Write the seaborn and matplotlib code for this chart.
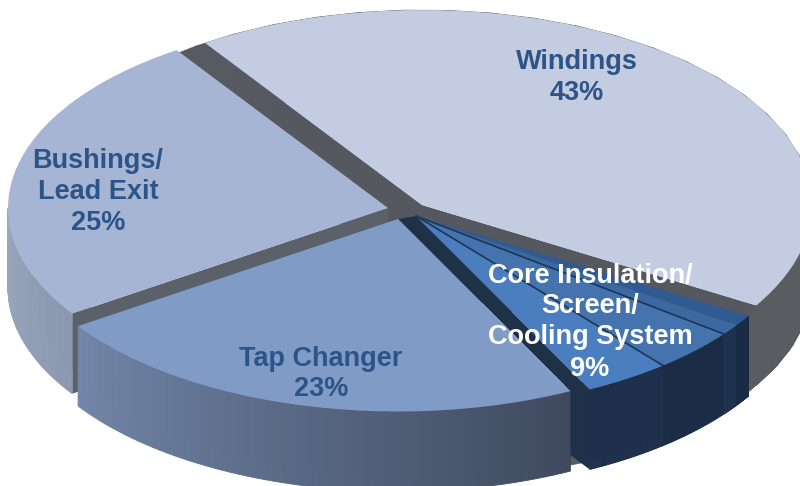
import numpy as np
import seaborn as sns
import matplotlib.pyplot as plt

# slice values, core group is split in four thin parts (together 9%)
names = ['Windings', 'Bushings', 'Tap Changer', 'Core 1', 'Core 2', 'Core 3', 'Core 4']
values = [43, 25, 23, 3.6, 3.6, 0.9, 0.9]
labels = ['Windings\n43%', 'Bushings/\nLead Exit\n25%', 'Tap Changer\n23%',
          'Core Insulation/\nScreen/\nCooling System\n9%']

top_colors = ['#c3cce0', '#a6b5d4', '#819bc7', '#4a7ebf', '#4573ad', '#3a689f', '#2f5a92']
label_colors = ['#2d5488', '#2d5488', '#2d5488', 'white']

# layout, in pixels of the picture
W, H = 800, 486
SQUASH = 0.5
DEPTH = 80
apex = {'Windings': (422, 205), 'Bushings': (388, 208), 'Tap Changer': (398, 219)}
radii = {'Windings': 390, 'Bushings': 380, 'Tap Changer': 385}
core_apex = (416, 216)
core_radius = 388
label_pos = [(577, 78), (98, 192), (321, 374), (590, 322)]


def to_data(px, py):
    return px, (H - py) / SQUASH


sns.set_theme(style='white')
plt.rcParams['font.family'] = ['Liberation Sans', 'DejaVu Sans']

fig = plt.figure(figsize=(8, 4.86), dpi=100)
ax = fig.add_axes([0, 0, 1, 1])
wedges, _ = ax.pie(values, colors=top_colors, startangle=-31, radius=core_radius,
                   wedgeprops={'linewidth': 0})
ax.set_aspect('auto')
ax.set_xlim(0, W)
ax.set_ylim(0, H / SQUASH)
ax.axis('off')

depth = DEPTH / SQUASH

for w, name in zip(wedges, names):
    w.set_center(to_data(*apex.get(name, core_apex)))
    w.set_radius(radii.get(name, core_radius))


def rim_point(w, angle):
    a = np.radians(angle)
    return w.center[0] + w.r * np.cos(a), w.center[1] + w.r * np.sin(a)


def cut_face(w, angle, color, z):
    x0, y0 = w.center
    x1, y1 = rim_point(w, angle)
    ax.fill([x0, x1, x1, x0], [y0, y1, y1 - depth, y0 - depth], color=color, lw=0, zorder=z)


def rim_band(w, a1, a2, start, end, z):
    angles = np.linspace(a1, a2, 61)
    shades = sns.blend_palette([start, end], len(angles) - 1)
    for i, c in enumerate(shades):
        xa, ya = rim_point(w, angles[i])
        xb, yb = rim_point(w, angles[i + 1])
        ax.fill([xa, xb, xb, xa], [ya, yb, yb - depth, ya - depth], color=c, lw=0.6, zorder=z)


win, bush, tap = wedges[0], wedges[1], wedges[2]
core = wedges[3:]

# windings: grey cut faces and right rim
cut_face(win, win.theta2, '#55585f', 1)
cut_face(win, win.theta1, '#55585f', 1)
rim_band(win, win.theta1, 360, '#55585f', '#5a5c62', 1)
win.set_zorder(2)

# bushings
cut_face(bush, bush.theta2, '#5c6068', 3)
rim_band(bush, 180, bush.theta2, '#9aa8c0', '#8b98af', 3)
bush.set_zorder(4)

# tap changer
rim_band(tap, tap.theta1, tap.theta2, '#7286a9', '#3f4a5e', 5)
tap.set_zorder(6)

# navy strip between tap changer and core
px, py = rim_point(tap, tap.theta2)
qx, qy = rim_point(core[0], core[0].theta1)
ax.fill([tap.center[0], px, px, qx, qx, core[0].center[0]],
        [tap.center[1], py, py - depth * 0.8, qy - depth, qy, core[0].center[1]],
        color='#1f3049', lw=0, zorder=5.5)

# core group
for w, shade in zip(core, ['#1d2f4a', '#1b2c46', '#1f324d', '#1a2b44']):
    rim_band(w, w.theta1, w.theta2, shade, shade, 7)
    w.set_zorder(8)
for w in core[1:3]:
    ex, ey = rim_point(w, w.theta1)
    ax.plot([w.center[0], ex], [w.center[1], ey], color='#1d3557', lw=1.2, zorder=9)

for text, (x, y), c in zip(labels, label_pos, label_colors):
    ax.text(*to_data(x, y), text, color=c, fontsize=19.5, fontweight='bold',
            ha='center', va='center', linespacing=1.25, zorder=10)

fig.savefig('out.png', dpi=100)
